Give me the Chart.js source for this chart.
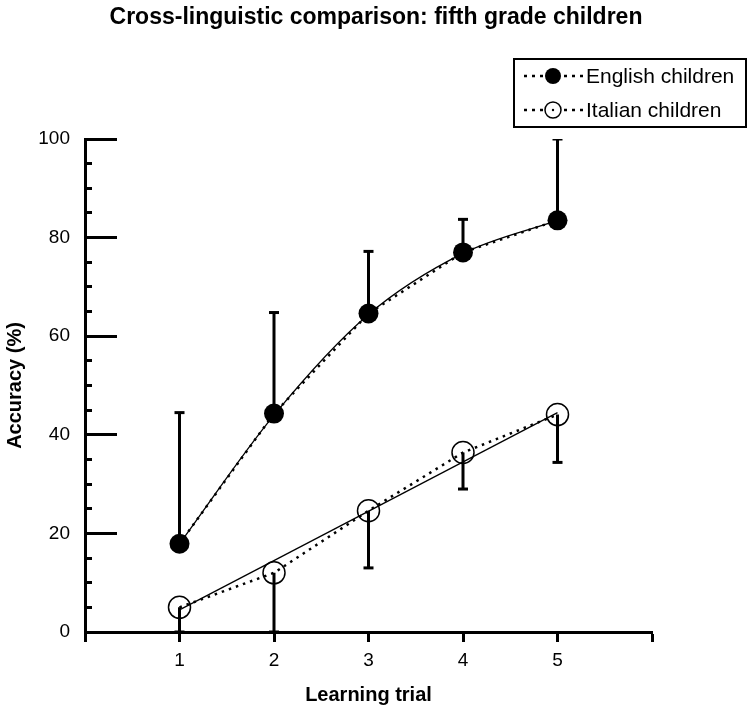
<!DOCTYPE html>
<html lang="en">
<head>
<meta charset="UTF-8" />
<title>Cross-linguistic comparison: fifth grade children</title>
<script src="https://cdn.jsdelivr.net/npm/chart.js"></script>
<style>
  html, body { margin: 0; padding: 0; background: #fff; }
  #wrap { width: 750px; height: 714px; }
</style>
</head>
<body>
<div id="wrap"><canvas id="chart" width="750" height="714"></canvas></div>
<script>
// data
const trials = [1, 2, 3, 4, 5];
const englishMean = [17.9, 44.3, 64.6, 77.0, 83.5];
const englishUpper = [44.5, 64.8, 77.2, 83.7, 100.0];
const englishFit = [17.9, 44.0, 64.4, 76.8, 83.5];
const italianMean = [5.0, 12.0, 24.6, 36.4, 44.1];
const italianLower = [0, 0, 13.0, 29.0, 34.4];
const italianFitX = [1, 5];
const italianFitY = [4.5, 44.5];
const xTickLabels = ["1", "2", "3", "4", "5"];
const seriesNames = ["English children", "Italian children"];
const chartTitle = "Cross-linguistic comparison: fifth grade children";

const FONT = "'Liberation Sans', Arial, Helvetica, sans-serif";

function points(xs, ys) {
	return xs.map((x, i) => ({ x: x, y: ys[i] }));
}

// vertical error stems, broken apart by null gaps
function stems(means, ends) {
	const pts = [];
	trials.forEach((t, i) => {
		pts.push({ x: t, y: means[i] }, { x: t, y: ends[i] }, { x: t, y: null });
	});
	return pts;
}

// title + framed legend drawn on top of the chart
const decorations = {
	id: "decorations",
	afterDraw(chart) {
		const ctx = chart.ctx;
		ctx.save();
		ctx.fillStyle = "#000";
		ctx.font = "bold 23px " + FONT;
		ctx.textAlign = "center";
		ctx.textBaseline = "middle";
		ctx.fillText(chartTitle, 376, 18);

		// legend frame
		ctx.lineWidth = 2;
		ctx.strokeStyle = "#000";
		ctx.setLineDash([]);
		ctx.strokeRect(514, 59, 232, 68);

		const rows = [
			{ y: 76, ds: chart.data.datasets[0] },
			{ y: 110, ds: chart.data.datasets[2] }
		];
		rows.forEach((r, i) => {
			ctx.lineWidth = 2.5;
			ctx.setLineDash([3, 5]);
			ctx.beginPath();
			ctx.moveTo(524, r.y);
			ctx.lineTo(583, r.y);
			ctx.stroke();
			ctx.setLineDash([]);
			ctx.beginPath();
			ctx.arc(553, r.y, 8, 0, Math.PI * 2);
			if (i === 0) {
				ctx.fillStyle = "#000";
				ctx.fill();
			} else {
				ctx.fillStyle = "#fff";
				ctx.fill();
				ctx.lineWidth = 1.5;
				ctx.stroke();
				ctx.fillStyle = "#000";
				ctx.beginPath();
				ctx.arc(553, r.y, 1.2, 0, Math.PI * 2);
				ctx.fill();
			}
			ctx.fillStyle = "#000";
			ctx.font = "21px " + FONT;
			ctx.textAlign = "left";
			ctx.fillText(r.ds.label, 586, r.y + 1);
		});
		ctx.restore();
	}
};

const ctx = document.getElementById("chart").getContext("2d");

new Chart(ctx, {
	type: "line",
	data: {
		datasets: [
			{
				label: seriesNames[0],
				data: points(trials, englishMean),
				borderColor: "#000",
				borderWidth: 2.5,
				borderDash: [2.5, 5],
				pointRadius: 10,
				pointBackgroundColor: "#000",
				pointBorderWidth: 0,
				tension: 0
			},
			{
				label: "English fit",
				data: points(trials, englishFit),
				borderColor: "#000",
				borderWidth: 1.3,
				cubicInterpolationMode: "monotone",
				pointRadius: 0
			},
			{
				label: seriesNames[1],
				data: points(trials, italianMean),
				borderColor: "#000",
				borderWidth: 2.5,
				borderDash: [2.5, 5],
				pointRadius: 11,
				pointBackgroundColor: "transparent",
				pointBorderColor: "#000",
				pointBorderWidth: 1.5,
				tension: 0
			},
			{
				label: "Italian fit",
				data: points(italianFitX, italianFitY),
				borderColor: "#000",
				borderWidth: 1.3,
				pointRadius: 0
			},
			{
				label: "English error",
				data: stems(englishMean, englishUpper),
				borderColor: "#000",
				borderWidth: 3,
				pointRadius: 0,
				spanGaps: false
			},
			{
				label: "English caps",
				data: points(trials, englishUpper),
				showLine: false,
				pointStyle: "line",
				pointRadius: 5,
				pointBorderWidth: 3,
				pointBorderColor: "#000"
			},
			{
				label: "Italian error",
				data: stems(italianMean, italianLower),
				borderColor: "#000",
				borderWidth: 3,
				pointRadius: 0,
				spanGaps: false
			},
			{
				label: "Italian caps",
				data: points(trials, italianLower),
				showLine: false,
				pointStyle: "line",
				pointRadius: 5,
				pointBorderWidth: 3,
				pointBorderColor: "#000"
			}
		]
	},
	options: {
		responsive: false,
		animation: false,
		devicePixelRatio: 1,
		layout: { padding: { top: 139, right: 98, bottom: 0, left: 0 } },
		events: [],
		plugins: {
			legend: { display: false },
			title: { display: false },
			tooltip: { enabled: false }
		},
		scales: {
			x: {
				type: "linear",
				min: 0,
				max: 6,
				ticks: {
					stepSize: 1,
					autoSkip: false,
					maxRotation: 0,
					padding: 7,
					color: "#000",
					font: { size: 19, family: FONT },
					callback: (v) => (v >= 1 && v <= 5 ? xTickLabels[v - 1] : "")
				},
				grid: { drawOnChartArea: false, tickLength: 10, tickWidth: 3, tickColor: "#000" },
				border: { color: "#000", width: 3 },
				title: {
					display: true,
					text: "Learning trial",
					color: "#000",
					font: { size: 20, weight: "bold", family: FONT },
					padding: { top: 0, bottom: 7 }
				},
				afterFit: (s) => { s.height = 82; }
			},
			y: {
				type: "linear",
				position: "left",
				weight: 1,
				min: 0,
				max: 100,
				ticks: {
					stepSize: 20,
					padding: 47,
					color: "#000",
					font: { size: 19, family: FONT }
				},
				grid: { drawOnChartArea: false, tickLength: -32, tickWidth: 3, tickColor: "#000" },
				border: { color: "#000", width: 3 },
				title: {
					display: true,
					text: "Accuracy (%)",
					color: "#000",
					font: { size: 20, weight: "bold", family: FONT },
					padding: { top: 3, bottom: 0 }
				},
				afterFit: (s) => { s.width = 85; }
			},
			yMinor: {
				type: "linear",
				position: "left",
				weight: 0,
				min: 0,
				max: 100,
				ticks: { stepSize: 5, display: false },
				grid: { drawOnChartArea: false, tickLength: -7, tickWidth: 3, tickColor: "#000" },
				border: { display: false },
				afterFit: (s) => { s.width = 0; }
			}
		}
	},
	plugins: [decorations]
});
</script>
</body>
</html>
